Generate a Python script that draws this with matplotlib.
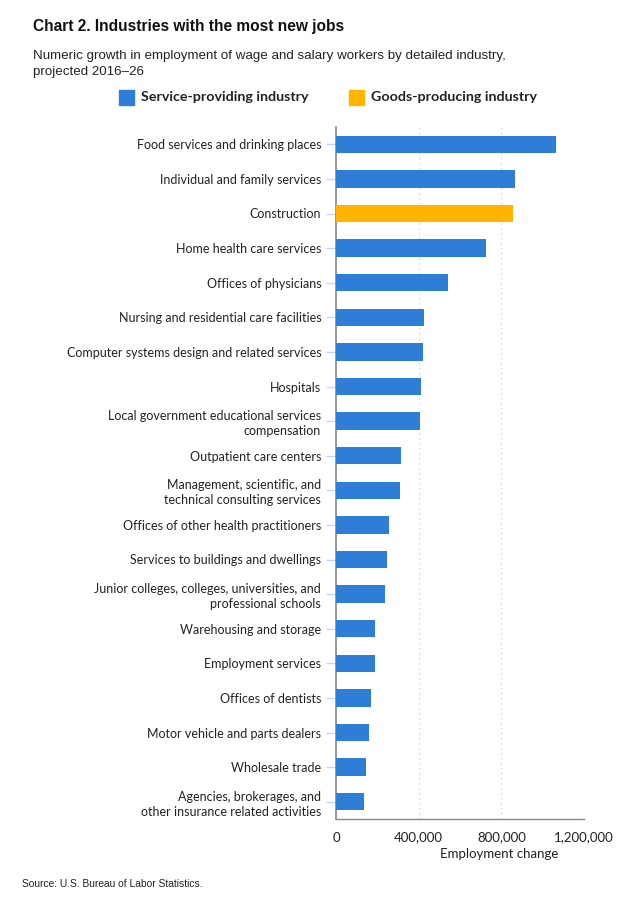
import numpy as np
import matplotlib.pyplot as plt
from matplotlib.patches import Rectangle

industries = [
    "Food services and drinking places",
    "Individual and family services",
    "Construction",
    "Home health care services",
    "Offices of physicians",
    "Nursing and residential care facilities",
    "Computer systems design and related services",
    "Hospitals",
    "Local government educational services\ncompensation",
    "Outpatient care centers",
    "Management, scientific, and\ntechnical consulting services",
    "Offices of other health practitioners",
    "Services to buildings and dwellings",
    "Junior colleges, colleges, universities, and\nprofessional schools",
    "Warehousing and storage",
    "Employment services",
    "Offices of dentists",
    "Motor vehicle and parts dealers",
    "Wholesale trade",
    "Agencies, brokerages, and\nother insurance related activities",
]
change = [1065000, 864000, 858000, 728000, 543000, 424000, 419000, 413000, 408000, 316000,
          310000, 255000, 246000, 235000, 191000, 191000, 170000, 159000, 143000, 137000]
sector = ["s", "s", "g"] + ["s"] * 17

blue = "#2e7dd7"
gold = "#ffb500"
font = ["Lato", "DejaVu Sans"]

fig = plt.figure(figsize=(6.31, 9.0), dpi=100)
ax = fig.add_axes([336/631, 1 - 819/900, 248/631, (819 - 127)/900])

y = np.arange(len(industries))
cols = [gold if s == "g" else blue for s in sector]
ax.barh(y, change, height=0.5, color=cols, zorder=3)
ax.set_ylim(len(industries) - 0.5, -0.5)
ax.set_xlim(0, 1200000)

ax.set_xticks([0, 400000, 800000, 1200000])
ax.set_xticklabels(["0", "400,000", "800,000", "1,200,000"], fontsize=9.5, family=font, color="#222222")
ax.set_yticks(y)
ax.set_yticklabels(industries, fontsize=9, family=font, color="#222222", linespacing=1.3)
ax.tick_params(axis="y", length=7.2, color="#ccd6eb", width=1, pad=3.5)
ax.tick_params(axis="x", length=0, pad=9)
ax.grid(axis="x", color="#cccccc", linestyle=(0, (1, 3)), linewidth=0.9, zorder=0)

for s in ["top", "right"]:
    ax.spines[s].set_visible(False)
ax.spines["left"].set_color("#888888")
ax.spines["left"].set_linewidth(1.2)
ax.spines["bottom"].set_color("#888888")
ax.spines["bottom"].set_linewidth(1)

ax.set_xlabel("Employment change", fontsize=9.5, family=font, color="#222222")
ax.xaxis.set_label_coords(0.66, -0.042)

fig.text(33/631, 1 - 27/900, "Chart 2. Industries with the most new jobs", fontsize=11.2,
         fontweight="bold", family="Liberation Sans", va="center", color="#111111")
fig.text(33/631, 1 - 64/900, "Numeric growth in employment of wage and salary workers by detailed industry,\nprojected 2016\u201326",
         fontsize=9.6, family="Liberation Sans", va="center", color="#222222", linespacing=1.4)

# legend
for x0, c, lab in [(119, blue, "Service-providing industry"), (349, gold, "Goods-producing industry")]:
    fig.patches.append(Rectangle((x0/631, 1 - 105/900), 15/631, 15/900, color=c, transform=fig.transFigure))
    fig.text((x0 + 22)/631, 1 - 97/900, lab, fontsize=10.3, fontweight="bold", family=font,
             va="center", color="#222222")

fig.text(22/631, 1 - 884/900, "Source: U.S. Bureau of Labor Statistics.", fontsize=7.4,
         family="Liberation Sans", va="center", color="#222222")

fig.savefig("out.png", dpi=100)
